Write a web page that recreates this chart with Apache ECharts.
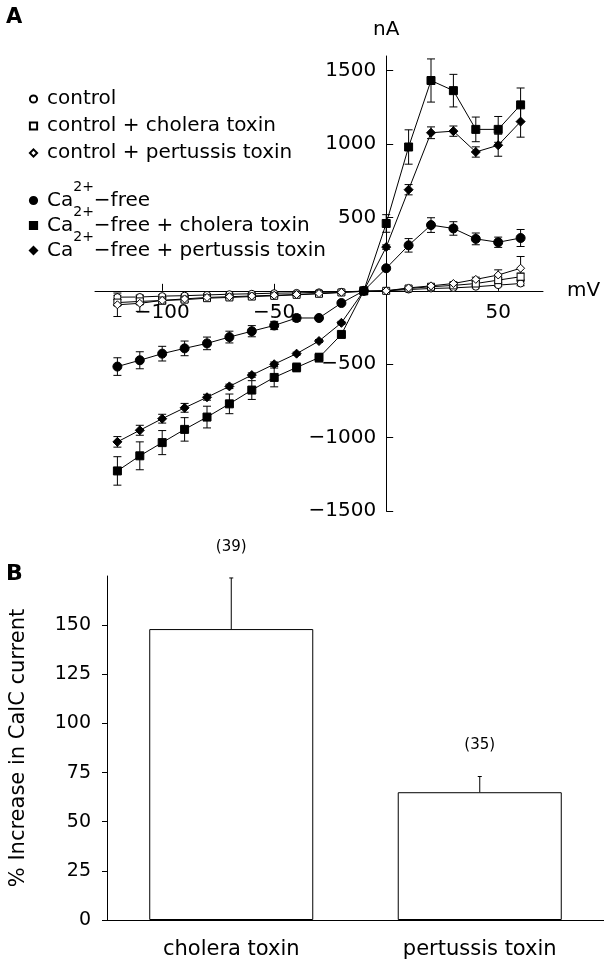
<!DOCTYPE html>
<html>
<head>
<meta charset="utf-8">
<script src="https://cdn.jsdelivr.net/npm/echarts@6/dist/echarts.min.js"></script>
<style>
html, body { margin: 0; padding: 0; background: #fff; }
#chart { width: 604px; height: 965px; }
</style>
</head>
<body>
<div id="chart"></div>
<script>
// panel A - membrane potential (mV) and current (nA)
var mV = [-120, -110, -100, -90, -80, -70, -60, -50, -40, -30, -20, -10, 0, 10, 20, 30, 40, 50, 60];

var ctrl      = [-43, -42, -36, -33, -28, -23, -20, -16, -14, -10, -7, -2, 0, 9, 16, 20, 28, 39, 50];
var ctrlErr   = [12, 12, 10, 10, 8, 8, 6, 6, 5, 5, 4, 3, 0, 5, 6, 6, 8, 10, 15];
var ctrlCt    = [-80, -72, -66, -60, -50, -45, -39, -34, -27, -20, -11, -3, 0, 16, 28, 37, 50, 73, 96];
var ctrlCtErr = [20, 18, 15, 14, 12, 10, 8, 8, 6, 6, 5, 3, 0, 6, 8, 8, 12, 15, 25];
var ctrlPt    = [-95, -85, -65, -55, -45, -40, -35, -30, -25, -18, -10, -3, 0, 20, 34, 50, 78, 108, 154];
var ctrlPtErr = [80, 55, 25, 20, 15, 12, 10, 8, 8, 6, 5, 3, 0, 6, 8, 10, 15, 35, 80];

var caFree    = [-516, -473, -428, -392, -358, -315, -275, -236, -185, -185, -83, 0, 154, 310, 448, 425, 354, 331, 360];
var caFreeErr = [60, 58, 50, 50, 43, 40, 38, 28, 22, 10, 8, 0, 10, 46, 50, 46, 40, 35, 58];
var caCt      = [-1227, -1124, -1034, -944, -860, -770, -676, -590, -522, -455, -297, 0, 459, 980, 1433, 1364, 1100, 1100, 1267];
var caCtErr   = [97, 95, 82, 80, 74, 67, 64, 64, 30, 30, 10, 0, 60, 117, 147, 111, 84, 88, 115];
var caPt      = [-1029, -950, -871, -797, -725, -651, -574, -500, -428, -342, -218, 0, 298, 689, 1077, 1088, 946, 992, 1153];
var caPtErr   = [36, 34, 30, 30, 20, 15, 15, 15, 10, 10, 10, 0, 15, 35, 40, 35, 35, 75, 106];

var xTicks = [-100, -50, 50];
var yTicks = [-1500, -1000, -500, 500, 1000, 1500];

// panel B
var toxins      = ['cholera toxin', 'pertussis toxin'];
var pctIncrease = [148, 65];
var pctErr      = [26, 8];
var nCells      = [39, 35];
var pctTicks    = [0, 25, 50, 75, 100, 125, 150];

var FONT = 'DejaVu Sans';

// top grid box, axes crossing at (0 mV, 0 nA)
var gA = { left: 95, width: 448, top: 56, height: 455 };
var xMin = -130, xMax = 70, yMin = -1500, yMax = 1600;
var yAxisShift = (0 - xMin) / (xMax - xMin) * gA.width;
var xAxisShift = (0 - yMin) / (yMax - yMin) * gA.height;

var chart = echarts.init(document.getElementById('chart'));

function minus(v) {
    return String(v).replace('-', '\u2212');
}

//误差线 (top panel, both sides)
function errBar(params, api) {
    var e = api.value(2);
    if (!e) return null;
    var x = api.value(0), y = api.value(1);
    var hi = api.coord([x, y + e])
        , lo = api.coord([x, y - e])
        , cap = 4
        , st = { stroke: '#000', lineWidth: 1 };
    return {
        type: 'group', children: [
            { type: 'line', shape: { x1: hi[0], y1: hi[1], x2: lo[0], y2: lo[1] }, style: st },
            { type: 'line', shape: { x1: hi[0] - cap, y1: hi[1], x2: hi[0] + cap, y2: hi[1] }, style: st },
            { type: 'line', shape: { x1: lo[0] - cap, y1: lo[1], x2: lo[0] + cap, y2: lo[1] }, style: st }
        ]
    };
}

var curves = [
    { name: 'control', y: ctrl, err: ctrlErr, symbol: 'circle', size: 7, fill: '#fff' },
    { name: 'control + cholera toxin', y: ctrlCt, err: ctrlCtErr, symbol: 'rect', size: 7, fill: '#fff' },
    { name: 'control + pertussis toxin', y: ctrlPt, err: ctrlPtErr, symbol: 'diamond', size: 8, fill: '#fff' },
    { name: 'Ca2+-free', y: caFree, err: caFreeErr, symbol: 'circle', size: 9, fill: '#000' },
    { name: 'Ca2+-free + cholera toxin', y: caCt, err: caCtErr, symbol: 'rect', size: 8, fill: '#000' },
    { name: 'Ca2+-free + pertussis toxin', y: caPt, err: caPtErr, symbol: 'diamond', size: 9, fill: '#000' }
];

var series = [];
curves.forEach(function (c) {
    series.push({
        type: 'custom',
        xAxisIndex: 0, yAxisIndex: 0,
        renderItem: errBar,
        data: mV.map(function (x, i) { return [x, c.y[i], c.err[i]]; }),
        z: 2, silent: true
    });
});
curves.forEach(function (c) {
    series.push({
        type: 'line',
        name: c.name,
        xAxisIndex: 0, yAxisIndex: 0,
        data: mV.map(function (x, i) { return [x, c.y[i]]; }),
        symbol: c.symbol,
        symbolSize: c.size,
        showAllSymbol: true,
        itemStyle: { color: c.fill, borderColor: '#000', borderWidth: 1 },
        lineStyle: { color: '#000', width: 1 },
        z: 3, silent: true
    });
});

// panel B bars + error + n
series.push({
    type: 'bar',
    xAxisIndex: 1, yAxisIndex: 1,
    data: pctIncrease,
    barWidth: '66%',
    itemStyle: { color: '#fff', borderColor: '#000', borderWidth: 1 },
    silent: true
});
series.push({
    type: 'custom',
    xAxisIndex: 1, yAxisIndex: 1,
    data: toxins.map(function (t, i) { return [i, pctIncrease[i], pctErr[i], nCells[i]]; }),
    renderItem: function (params, api) {
        var i = api.value(0), v = api.value(1);
        var base = api.coord([i, v])
            , top = api.coord([i, v + api.value(2)])
            , st = { stroke: '#000', lineWidth: 1 };
        return {
            type: 'group', children: [
                { type: 'line', shape: { x1: base[0], y1: base[1], x2: top[0], y2: top[1] }, style: st },
                { type: 'line', shape: { x1: top[0] - 2, y1: top[1], x2: top[0] + 2, y2: top[1] }, style: st },
                {
                    type: 'text',
                    style: {
                        text: '(' + api.value(3) + ')', x: top[0], y: top[1] - 31,
                        align: 'center', verticalAlign: 'middle',
                        fontSize: 15, fontFamily: FONT, fill: '#000'
                    }
                }
            ]
        };
    },
    z: 3, silent: true
});

function legendFmt(name) {
    if (name.indexOf('Ca2+') === 0) {
        return '{n|Ca}{s|2+}{n|' + name.slice(4).replace('-', '\u2212') + '}';
    }
    return '{n|' + name + '}';
}

var option = {
    animation: false,
    backgroundColor: '#fff',
    textStyle: { fontFamily: FONT, color: '#000' },
    graphic: [
        { type: 'text', left: 6, top: 7, style: { text: 'A', font: 'bold 21px "DejaVu Sans"', fill: '#000' } },
        { type: 'text', left: 6, top: 563, style: { text: 'B', font: 'bold 22px "DejaVu Sans"', fill: '#000' } }
    ],
    legend: [{
        orient: 'vertical', left: 23, top: 84,
        itemWidth: 9, itemHeight: 9, itemGap: 7,
        selectedMode: false,
        lineStyle: { opacity: 0 },
        data: curves.slice(0, 3).map(function (c) { return c.name; }),
        formatter: legendFmt,
        textStyle: {
            padding: [0, 0, 0, 4],
            rich: { n: { fontSize: 20, lineHeight: 21, fontFamily: FONT, color: '#000' } }
        }
    }, {
        orient: 'vertical', left: 23, top: 175,
        itemWidth: 9, itemHeight: 9, itemGap: -16,
        selectedMode: false,
        lineStyle: { opacity: 0 },
        data: curves.slice(3).map(function (c) { return c.name; }),
        formatter: legendFmt,
        textStyle: {
            padding: [0, 0, 0, 4],
            rich: {
                n: { fontSize: 20, lineHeight: 20, verticalAlign: 'middle', fontFamily: FONT, color: '#000' },
                s: { fontSize: 14, lineHeight: 14, padding: [0, 0, 27, 0], verticalAlign: 'middle', fontFamily: FONT, color: '#000' }
            }
        }
    }],
    grid: [
        gA,
        { left: 106, right: 0, top: 576, height: 344 }
    ],
    xAxis: [{
        type: 'value', gridIndex: 0,
        min: xMin, max: xMax,
        position: 'bottom', offset: -xAxisShift,
        name: 'mV', nameLocation: 'end', nameGap: 24,
        nameTextStyle: { fontSize: 20, color: '#000', padding: [0, 0, 8, 0] },
        axisLine: { onZero: false, lineStyle: { color: '#000', width: 1 } },
        axisTick: { inside: true, length: 7, customValues: xTicks, lineStyle: { color: '#000' } },
        axisLabel: { customValues: xTicks, margin: 12, fontSize: 20, color: '#000', formatter: minus },
        splitLine: { show: false }
    }, {
        type: 'category', gridIndex: 1,
        data: toxins,
        axisLine: { lineStyle: { color: '#000', width: 1 } },
        axisTick: { show: false },
        axisLabel: { margin: 19, fontSize: 21, color: '#000' }
    }],
    yAxis: [{
        type: 'value', gridIndex: 0,
        min: yMin, max: yMax,
        position: 'left', offset: -yAxisShift,
        name: 'nA', nameLocation: 'end', nameGap: 16,
        nameTextStyle: { fontSize: 20, color: '#000' },
        axisLine: { onZero: false, lineStyle: { color: '#000', width: 1 } },
        axisTick: { inside: true, length: 7, customValues: yTicks, lineStyle: { color: '#000' } },
        axisLabel: { customValues: yTicks, margin: 10, fontSize: 20, color: '#000', formatter: minus },
        splitLine: { show: false }
    }, {
        type: 'value', gridIndex: 1,
        min: 0, max: 175,
        name: '% Increase in CalC current', nameLocation: 'middle', nameGap: 78,
        nameTextStyle: { fontSize: 21, color: '#000' },
        axisLine: { show: true, lineStyle: { color: '#000', width: 1 } },
        axisTick: { show: true, length: 5, customValues: pctTicks, lineStyle: { color: '#000' } },
        axisLabel: { customValues: pctTicks, margin: 16, fontSize: 19, color: '#000' },
        splitLine: { show: false }
    }],
    series: series
};

chart.setOption(option);
</script>
</body>
</html>
